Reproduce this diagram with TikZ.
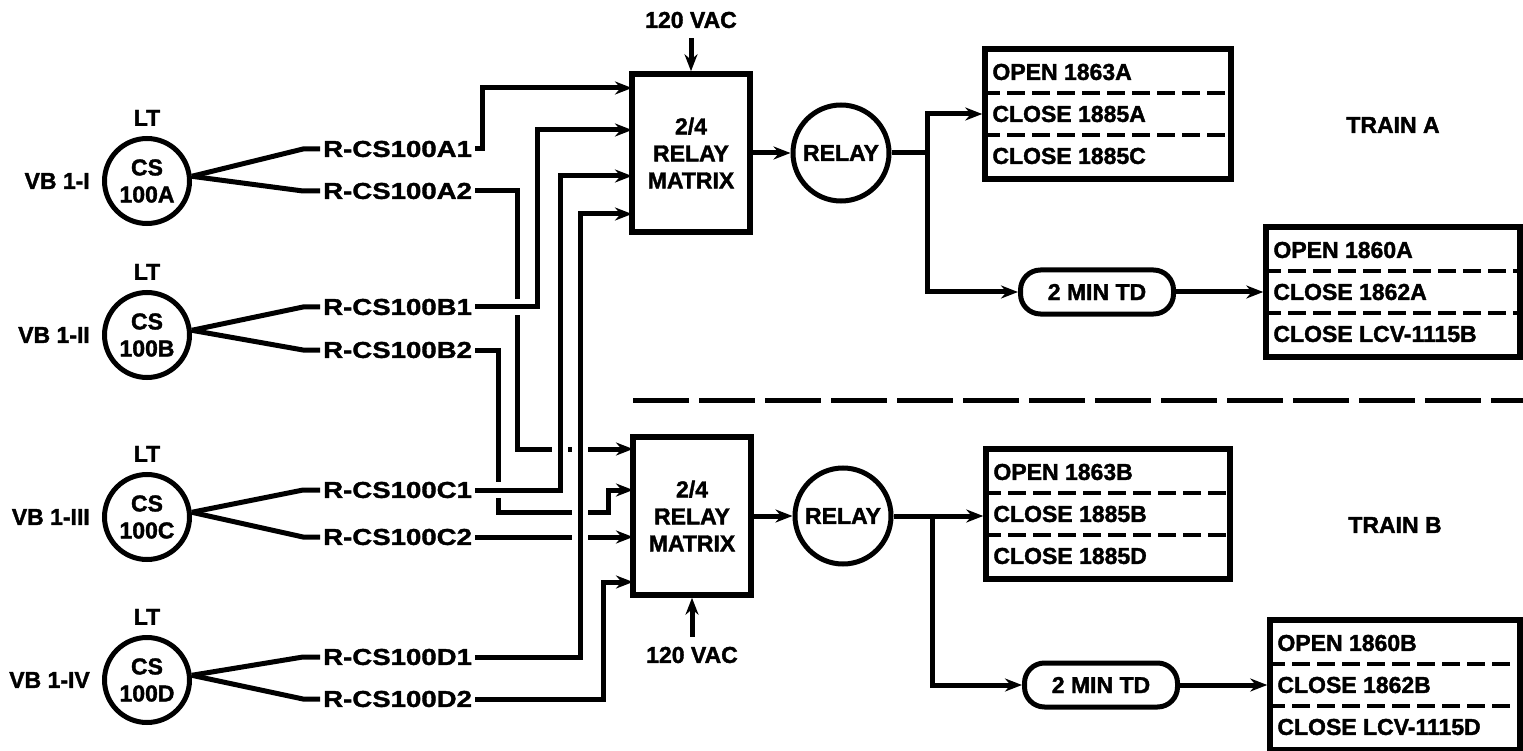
\documentclass[tikz,border=0pt]{standalone}
\usepackage{fontspec}
\setmainfont{Liberation Sans}[BoldFeatures={FakeBold=1.6}]
\newfontfamily\rcsfont{Liberation Sans}[FakeStretch=1.2, BoldFeatures={FakeBold=1.6}]
\usetikzlibrary{arrows.meta, positioning}

\begin{document}
\begin{tikzpicture}[
    x=1pt, y=-1pt,
    wire/.style={line width=5pt},
    arr/.style={wire, -{Stealth[length=17pt, width=13pt]}},
    over/.style={preaction={draw=white, line width=16pt, -, shorten >=22pt}},
    lbl/.style={font=\bfseries\fontsize{23}{27}\selectfont, inner sep=2pt},
    rcs/.style={font=\rcsfont\bfseries\fontsize{23}{27}\selectfont, inner sep=3pt, anchor=west},
    sensor/.style={lbl, circle, draw, line width=5pt, minimum size=85pt, inner sep=0pt, align=center},
    mtx/.style={lbl, draw, line width=5.5pt, minimum width=118pt, minimum height=158pt, align=center},
    rly/.style={lbl, circle, draw, line width=5pt, minimum size=96pt, inner sep=0pt},
    tdbox/.style={lbl, draw, line width=5pt, rounded corners=20pt, minimum width=153pt, minimum height=44pt},
    outbox/.style={draw, line width=5.5pt, minimum height=130pt},
    row/.style={lbl, anchor=west},
    sep/.style={line width=4.5pt, dash pattern=on 18pt off 7pt},
    divider/.style={line width=5pt, dash pattern=on 56pt off 10pt}
]
    \useasboundingbox (0,0) rectangle (1523,751);

    % Level transmitters
    \foreach \s/\cy/\vb/\ya/\yb in {A/181/I/149/191, B/335/II/307/350, C/517/III/490/537, D/680/IV/657/699} {
        \node[sensor] (cs\s) at (147,\cy) {CS\\100\s};
        \node[lbl, above=8pt of cs\s] (lt\s) {LT};
        \node[lbl, left=10pt of cs\s] (vb\s) {VB 1-\vb};
        \node[rcs] (r\s1) at (320,\ya) {R-CS100\s1};
        \node[rcs] (r\s2) at (320,\yb) {R-CS100\s2};
        \draw[wire] (cs\s.6) -- ([xshift=-17pt]r\s1.west) -- (r\s1.west);
        \draw[wire] (cs\s.6) -- ([xshift=-17pt]r\s2.west) -- (r\s2.west);
    }

    % Relay matrices
    \node[mtx] (mtxA) at (691,153) {2/4\\RELAY\\MATRIX};
    \node[mtx] (mtxB) at (692,516) {2/4\\RELAY\\MATRIX};
    \node[lbl] (vacA) at (691,20) {120 VAC};
    \node[lbl] (vacB) at (692,655) {120 VAC};
    \draw[arr] ([yshift=-8pt]vacA.south) -- (mtxA.north);
    \draw[arr] ([yshift=8pt]vacB.north) -- (mtxB.south);

    \coordinate (inA1) at (632,88);
    \coordinate (inA2) at (632,130);
    \coordinate (inA3) at (632,176);
    \coordinate (inA4) at (632,214);
    \coordinate (inB1) at (633,449);
    \coordinate (inB2) at (633,490);
    \coordinate (inB3) at (633,537);
    \coordinate (inB4) at (633,582);

    % Wiring to matrices
    \draw[arr] (rA1.east) -| (482,88) -- (inA1);
    \draw[arr] (rA2.east) -| (517,449) -- (inB1);
    \draw[arr] (rB2.east) -| (498,512) -- (608,512) |- (inB2);
    \draw[arr] (rC2.east) -- (inB3);
    \draw[arr] (rD2.east) -| (603,582) -- (inB4);
    \draw[arr, over] (rB1.east) -| (537,130) -- (inA2);
    \draw[arr, over] (rC1.east) -| (560,176) -- (inA3);
    \draw[arr, over] (rD1.east) -| (580,214) -- (inA4);

    % Relays
    \node[rly] (relA) at (841,153) {RELAY};
    \node[rly] (relB) at (843,516) {RELAY};
    \draw[arr] (mtxA) -- (relA);
    \draw[arr] (mtxB) -- (relB);

    % Output boxes
    \foreach \nm/\cx/\cy/\w/\ta/\tb/\tc in {
        boxA1/1108/114/246/OPEN 1863A/CLOSE 1885A/CLOSE 1885C,
        boxA2/1393/292/254/OPEN 1860A/CLOSE 1862A/CLOSE LCV-1115B,
        boxB1/1108/514/244/OPEN 1863B/CLOSE 1885B/CLOSE 1885D,
        boxB2/1395/685/250/OPEN 1860B/CLOSE 1862B/CLOSE LCV-1115D} {
        \node[outbox, minimum width=\w pt] (\nm) at (\cx,\cy) {};
        \node[row] (\nm-1) at ([xshift=8pt, yshift=42pt]\nm.west) {\ta};
        \node[row] (\nm-2) at ([xshift=8pt]\nm.west) {\tb};
        \node[row] (\nm-3) at ([xshift=8pt, yshift=-42pt]\nm.west) {\tc};
        \draw[sep] ([yshift=21pt]\nm.west) -- ([yshift=21pt]\nm.east);
        \draw[sep] ([yshift=-21pt]\nm.west) -- ([yshift=-21pt]\nm.east);
    }

    % Time delays
    \node[tdbox] (tdA) at (1097,292) {2 MIN TD};
    \node[tdbox] (tdB) at (1101,685) {2 MIN TD};

    \coordinate (brA) at (927,153);
    \coordinate (brB) at (932,516);
    \draw[wire] (relA) -- (brA);
    \draw[arr] (brA) |- (boxA1.west);
    \draw[arr] (brA) |- (tdA.west);
    \draw[arr] (tdA) -- (boxA2);
    \draw[arr] (relB) -- (relB -| boxB1.west);
    \draw[arr] (brB) |- (tdB.west);
    \draw[arr] (tdB) -- (boxB2);

    % Trains
    \node[lbl] (trainA) at (1393,125) {TRAIN A};
    \node[lbl] (trainB) at (1395,525) {TRAIN B};
    \draw[divider] (633,400) -- (1523,400);

\end{tikzpicture}
\end{document}
